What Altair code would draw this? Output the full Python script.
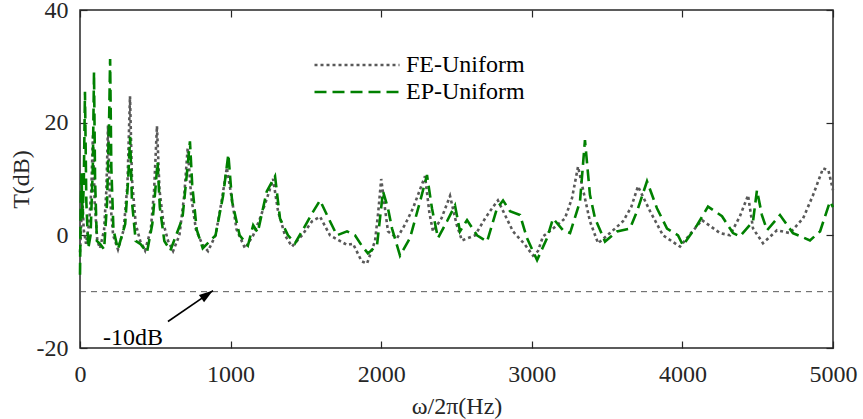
import altair as alt
import pandas as pd

# ---------------- data ----------------
series_names = ["FE-Uniform", "EP-Uniform"]

fe_freq = [0, 8, 15, 25, 40, 60, 75, 86, 97, 115, 133, 160, 175, 186, 198, 220, 252, 290, 315, 332,
           345, 370, 400, 432, 470, 492, 511, 528, 555, 585, 618, 660, 692, 715, 738, 770, 810, 850,
           900, 940, 975, 1005, 1040, 1096, 1150, 1195, 1242, 1282, 1315, 1361, 1408, 1474, 1541,
           1594, 1660, 1726, 1773, 1813, 1870, 1906, 1959, 1980, 2000, 2025, 2045, 2105, 2160, 2211,
           2291, 2320, 2344, 2400, 2457, 2500, 2536, 2623, 2690, 2736, 2775, 2875, 2950, 3008, 3041,
           3074, 3141, 3220, 3267, 3307, 3386, 3440, 3519, 3606, 3660, 3705, 3785, 3871, 3984, 4060,
           4130, 4250, 4316, 4382, 4436, 4469, 4535, 4628, 4714, 4801, 4867, 4934, 4970, 5000]
fe_val = [-3, 2, 7, 1, -1.5, 2, 8, 18, 6, -1, -2.3, 1, 8, 19.5, 7, 0, -2.5, 1, 9, 24.7,
          10, 2, -1, -2.7, 1, 8, 19.4, 8, 2, -1, -2.8, 0, 7, 15.5, 7, 1, -1.5, -2.8,
          0, 6, 12, 7, 1, -2.3, 0, 3, 6.6, 10, 4.3, 0, -2, 0, 2.5,
          3.3, 0, -1, -1.7, -1.5, -4.6, -5, -1, 4, 10, 4.8, 0.7, -0.5, 2, 4.8,
          10.5, 4, 0.7, 3, 7, 2, -0.9, 0, 3, 4.8, 6.2, 0.7, -1.5, -3.6, -2.8,
          -0.2, 1.2, 3, 6.6, 12.2, 2.5, -1.4, 0.4, 2.5, 5, 8.7, 4.3, 0, -2, 0.5,
          2.7, 0.4, 0, 3.4, 7.1, 1.2, -1.4, 0.9, 0.4, 3, 7.1, 11.9, 11.5, 8]

ep_freq = [0, 5, 10, 17, 25, 33, 42, 55, 70, 85, 93, 100, 112, 133, 160, 180, 193, 200, 208, 222,
           252, 300, 320, 333, 345, 370, 400, 445, 480, 500, 515, 530, 560, 600, 680, 710, 730, 745,
           775, 815, 900, 950, 985, 1010, 1060, 1115, 1150, 1180, 1240, 1295, 1328, 1381, 1428,
           1474, 1541, 1594, 1640, 1706, 1773, 1826, 1870, 1912, 1972, 2012, 2045, 2072, 2125, 2191,
           2258, 2304, 2337, 2377, 2437, 2490, 2523, 2570, 2636, 2703, 2769, 2809, 2855, 2922, 2968,
           3035, 3101, 3141, 3207, 3254, 3320, 3353, 3386, 3420, 3486, 3566, 3652, 3699, 3765, 3831,
           3898, 3971, 4004, 4097, 4170, 4263, 4336, 4382, 4469, 4495, 4528, 4562, 4648, 4734, 4847,
           4914, 4980, 5000]
ep_val = [-7, 6, 11, 3, 9, 25.5, 6, -2.3, 0, 12, 29, 10, -1, -1.5, -2.5, 6, 20, 31.3, 12, 1,
          -2.5, 2, 10, 17.5, 6, -1, -1.5, -3, 2, 8, 13, 5, -1, -2.7, 3, 11, 16.7, 9,
          1, -2.3, 0, 7, 14.4, 6, 0, -1.8, 1.8, 0.5, 7.8, 10.5, 3, 0, -1.4,
          0.7, 3.9, 6.2, 3.6, 0, 0.7, 0, -1.8, -3.2, -1.8, 7.8, 4.8, 1.2, -3.6, -0.5,
          6, 10.7, 4.8, -0.5, 2.5, 5.3, 0.7, 2.7, 0, -1.1, 4.8, 6.2, 4.3, 3.6, -0.5,
          -4.4, -0.5, 3, 0.9, 0.4, 6, 16.9, 7.2, 3, -1.1, 0.7, 1.2, 4.3, 9.6, 4.8,
          1.2, 0, -1.8, 1.8, 5.1, 3.4, 0.4, -0.2, 2.5, 8, 3.6, 0.9, 3.6, 0.4, -0.9,
          0.7, 6, 5]

x_ticks = [0, 1000, 2000, 3000, 4000, 5000]
y_ticks = [-20, 0, 20, 40]
x_domain = [0, 5000]
y_domain = [-20, 40]
threshold_db = -10

arrow_tail = {"f": 584, "t": -15.3}
arrow_head = {"f": 883, "t": -9.8}
note_label = "-10dB"
note_pos = {"f": 153, "t": -19.5}

# ---------------- tables ----------------
curves = pd.concat([
    pd.DataFrame({"freq": fe_freq, "T": fe_val, "series": series_names[0]}),
    pd.DataFrame({"freq": ep_freq, "T": ep_val, "series": series_names[1]}),
], ignore_index=True)
curves["order"] = curves.index

thr_df = pd.DataFrame({"f0": [x_domain[0]], "f1": [x_domain[1]], "t": [threshold_db]})
arrow_df = pd.DataFrame({"f0": [arrow_tail["f"]], "t0": [arrow_tail["t"]],
                         "f1": [arrow_head["f"]], "t1": [arrow_head["t"]]})
note_df = pd.DataFrame({"f": [note_pos["f"]], "t": [note_pos["t"]], "label": [note_label]})

FONT = "Liberation Serif, Times New Roman, serif"
AX = "#262626"

xs = alt.Scale(domain=x_domain, nice=False, zero=False)
ys = alt.Scale(domain=y_domain, nice=False, zero=False)

common_axis = dict(domain=False, grid=False, tickSize=7, offset=-7, tickColor=AX, tickWidth=1.2,
                   labelFont=FONT, labelFontSize=24, labelColor=AX, labelFlush=False,
                   labelExpr="'' + datum.value",
                   titleFont=FONT, titleFontSize=24, titleColor=AX, titleFontWeight="normal")

lines = alt.Chart(curves).mark_line(strokeWidth=2.6, interpolate="linear").encode(
    x=alt.X("freq:Q", scale=xs,
            axis=alt.Axis(orient="bottom", values=x_ticks, labelPadding=14,
                          title="ω/2π(Hz)", titlePadding=8, **common_axis)),
    y=alt.Y("T:Q", scale=ys,
            axis=alt.Axis(orient="left", values=y_ticks, labelPadding=12,
                          title="T(dB)", titlePadding=3, **common_axis)),
    color=alt.Color("series:N", title=None,
                    scale=alt.Scale(domain=series_names, range=["#595959", "#008000"])),
    strokeDash=alt.StrokeDash("series:N", title=None,
                              scale=alt.Scale(domain=series_names, range=[[3, 3], [12, 6]])),
    order="order:Q",
)

thr = alt.Chart(thr_df).mark_rule(color="#595959", strokeWidth=1, strokeDash=[6, 5]).encode(
    x=alt.X("f0:Q", scale=xs,
            axis=alt.Axis(orient="top", values=x_ticks, labels=False, title=None, **common_axis)),
    x2="f1:Q",
    y=alt.Y("t:Q", scale=ys,
            axis=alt.Axis(orient="right", values=y_ticks, labels=False, title=None, **common_axis)),
)

arrow_line = alt.Chart(arrow_df).mark_rule(color="black", strokeWidth=1.6).encode(
    x=alt.X("f0:Q", scale=xs, axis=None), x2="f1:Q",
    y=alt.Y("t0:Q", scale=ys, axis=None), y2="t1:Q",
)

arrow_tip = alt.Chart(arrow_df).mark_point(
    shape="M0,0L-0.32,1L0.32,1Z", size=784, filled=True, color="black", opacity=1, angle=55,
    strokeWidth=0,
).encode(
    x=alt.X("f1:Q", scale=xs, axis=None),
    y=alt.Y("t1:Q", scale=ys, axis=None),
)

note = alt.Chart(note_df).mark_text(font=FONT, fontSize=24, color="black", align="left",
                                    baseline="alphabetic").encode(
    x=alt.X("f:Q", scale=xs, axis=None),
    y=alt.Y("t:Q", scale=ys, axis=None),
    text="label:N",
)

chart = alt.layer(lines, thr, arrow_line, arrow_tip, note).resolve_scale(
    x="independent", y="independent"
).properties(
    width=753, height=338,
    autosize=alt.AutoSizeParams(type="none"),
    padding={"left": 80, "top": 10, "right": 30, "bottom": 71},
).configure_view(
    stroke=AX, strokeWidth=1.5
).configure_legend(
    orient="none", legendX=233, legendY=42, padding=0,
    symbolType="stroke", symbolSize=7225, symbolStrokeWidth=2.6,
    labelFont=FONT, labelFontSize=24, labelColor="black", labelOffset=5,
    clipHeight=26, rowPadding=1, labelLimit=400,
)

chart.save("out.html", embed_options={"renderer": "svg", "actions": False})
